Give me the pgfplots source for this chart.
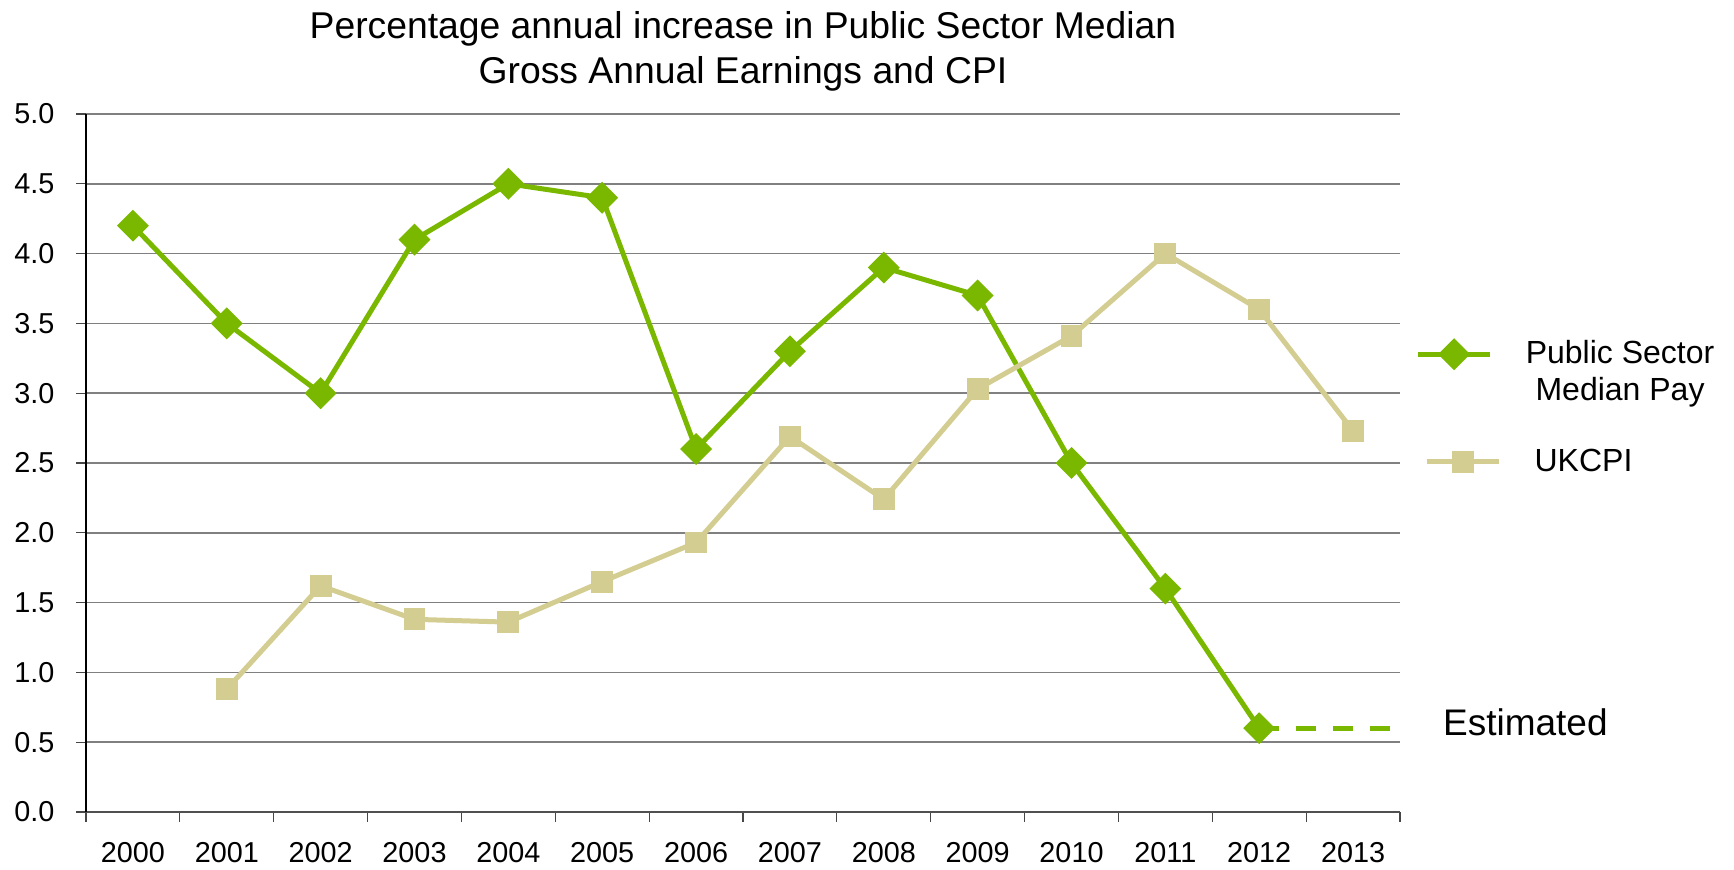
\documentclass[border=0pt]{standalone}
\usepackage{pgfplots}
\pgfplotsset{compat=1.18}
\usepackage{fontspec}
\setmainfont{Liberation Sans}
\definecolor{pay}{RGB}{122,184,0}
\definecolor{cpi}{RGB}{212,205,145}
\definecolor{gridc}{RGB}{128,128,128}
\pgfplotsset{
  payimg/.style={legend image code/.code={
    \path[draw=none, fill=none] (0pt,-15pt) rectangle (36pt,15pt);
    \draw[##1, mark=none] (0pt,8.8pt) -- (36pt,8.8pt);
    \draw[##1, only marks] plot coordinates {(18pt,8.8pt)};
  }},
  cpiimg/.style={legend image code/.code={
    \path[draw=none, fill=none] (0pt,-3pt) rectangle (40.4pt,3pt);
    \draw[##1, mark=none] (4.4pt,0pt) -- (40.4pt,0pt);
    \draw[##1, only marks] plot coordinates {(22.4pt,0pt)};
  }},
}
\begin{document}
\begin{tikzpicture}
\useasboundingbox (-43pt,-29pt) rectangle (824pt,406pt);
\begin{axis}[
  at={(0,0)}, anchor=south west,
  scale only axis, width=657pt, height=349pt,
  xmin=-0.5, xmax=13.5, ymin=0, ymax=5,
  clip=false,
  xtick={-0.5,0.5,1.5,2.5,3.5,4.5,5.5,6.5,7.5,8.5,9.5,10.5,11.5,12.5,13.5},
  x tick label as interval,
  xticklabels={2000,2001,2002,2003,2004,2005,2006,2007,2008,2009,2010,2011,2012,2013},
  ytick={0,0.5,...,5},
  yticklabel={\pgfmathprintnumber[fixed,fixed zerofill,precision=1]{\tick}},
  /pgf/number format/assume math mode=true,
  ticklabel style={font=\fontsize{14.4}{17}\selectfont, text=black},
  xticklabel style={yshift=-7pt},
  yticklabel style={xshift=-7.5pt},
  axis x line*=bottom, axis y line*=left,
  x axis line style={-, draw={rgb,255:red,80;green,80;blue,80}, line width=0.8pt},
  y axis line style={-, draw=black, line width=0.6pt},
  tick align=outside, major tick length=4.8pt,
  tick style={draw={rgb,255:red,70;green,70;blue,70}, line width=0.6pt},
  ymajorgrids, grid style={draw=gridc, line width=0.8pt},
  legend style={draw=none, fill=none, at={(rel axis cs:1,0.659)}, anchor=north west,
    xshift=4.6pt, yshift=10pt,
    font=\fontsize{16}{18.3}\selectfont, cells={align=center, anchor=west},
    row sep=19pt, /tikz/every odd column/.append style={column sep=10.2pt}},
]
\addplot[pay, line width=2.5pt, dash pattern=on 10pt off 8.5pt, forget plot]
  coordinates {(12,0.6) (13.5,0.6)};
\addplot[pay, line width=2.5pt, mark=square*, mark size=4.4pt, mark options={rotate=45, solid}, payimg]
  coordinates {(0,4.2) (1,3.5) (2,3.0) (3,4.1) (4,4.5) (5,4.4) (6,2.6)
               (7,3.3) (8,3.9) (9,3.7) (10,2.5) (11,1.6) (12,0.6)};
\addlegendentry{Public Sector\\Median Pay}
\addplot[cpi, line width=2.5pt, mark=square*, mark size=4.2pt, cpiimg]
  coordinates {(1,0.88) (2,1.62) (3,1.38) (4,1.36) (5,1.65) (6,1.93)
               (7,2.69) (8,2.24) (9,3.03) (10,3.41) (11,4.0) (12,3.6) (13,2.73)};
\addlegendentry{\hspace{4.4pt}UKCPI}
\node[anchor=west, font=\fontsize{18.5}{22}\selectfont] at (axis cs:13.5,0.64) [xshift=18pt] {Estimated};
\node[align=center, font=\fontsize{18.65}{22.6}\selectfont, anchor=base] at (rel axis cs:0.5,1) [yshift=15.3pt] {Percentage annual increase in Public Sector Median\\Gross Annual Earnings and CPI};
\end{axis}
\end{tikzpicture}
\end{document}
